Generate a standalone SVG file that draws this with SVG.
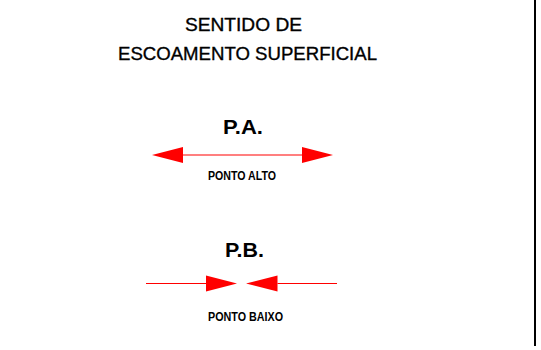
<svg xmlns="http://www.w3.org/2000/svg" width="541" height="350" viewBox="0 0 541 350">
<style>
.t{font-family:"Liberation Sans",Arial,sans-serif;fill:#000;text-anchor:middle}
.title{font-size:18.5px;stroke:#000;stroke-width:0.35}
.big{font-size:20px;font-weight:bold}
.sm{font-size:12px;font-weight:bold}
.ln{stroke:#ff0000;stroke-width:1.2;fill:none}
.hd{fill:#ff0000;stroke:none}
</style>
<rect width="541" height="350" fill="#fff"/>
<line x1="535" y1="0" x2="535" y2="346" stroke="#000" stroke-width="2"/>
<g id="title">
<text class="t title" x="243.5" y="31" textLength="117" lengthAdjust="spacingAndGlyphs">SENTIDO DE</text>
<text class="t title" x="247.5" y="60" textLength="259" lengthAdjust="spacingAndGlyphs">ESCOAMENTO SUPERFICIAL</text>
</g>
<g id="pa">
<text class="t big" x="243" y="133.5" textLength="40" lengthAdjust="spacingAndGlyphs">P.A.</text>
<text class="t sm" x="242" y="179.5" textLength="68" lengthAdjust="spacingAndGlyphs">PONTO ALTO</text>
</g>
<g id="pb">
<text class="t big" x="244.5" y="256.7" textLength="39" lengthAdjust="spacingAndGlyphs">P.B.</text>
<text class="t sm" x="245.5" y="320.7" textLength="75" lengthAdjust="spacingAndGlyphs">PONTO BAIXO</text>
</g>
<g id="connectors">
<line class="ln" x1="183" y1="155" x2="302" y2="155"/>
<polygon class="hd" points="152,155 183,147 183,163"/>
<polygon class="hd" points="333,155 302,147 302,163"/>
<line class="ln" x1="146" y1="283.5" x2="206" y2="283.5"/>
<polygon class="hd" points="237,283.5 206,275.5 206,291.5"/>
<line class="ln" x1="277.5" y1="283.5" x2="337" y2="283.5"/>
<polygon class="hd" points="246,283.5 277.5,275.5 277.5,291.5"/>
</g>
</svg>
